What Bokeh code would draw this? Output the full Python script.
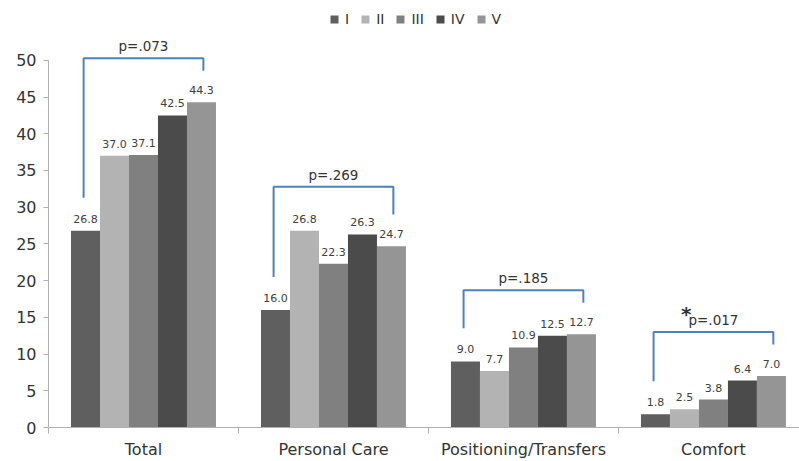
from bokeh.plotting import figure
from bokeh.models import ColumnDataSource, Range1d, FixedTicker, Legend, LegendItem
from bokeh.transform import dodge
from bokeh.core.properties import value
from bokeh.embed import file_html
from bokeh.resources import INLINE

categories = ["Total", "Personal Care", "Positioning/Transfers", "Comfort"]
series_names = ["I", "II", "III", "IV", "V"]
s_I = [26.8, 16.0, 9.0, 1.8]
s_II = [37.0, 26.8, 7.7, 2.5]
s_III = [37.1, 22.3, 10.9, 3.8]
s_IV = [42.5, 26.3, 12.5, 6.4]
s_V = [44.3, 24.7, 12.7, 7.0]
p_values = [0.073, 0.269, 0.185, 0.017]
y_ticks = [0, 5, 10, 15, 20, 25, 30, 35, 40, 45, 50]

series = [s_I, s_II, s_III, s_IV, s_V]
colors = ["#5f5f5f", "#b3b3b3", "#808080", "#4b4b4b", "#959595"]
FONT = "DejaVu Sans"
BAR_W = 0.1526

centers = [i + 0.5 for i in range(len(categories))]
data = {"x": centers}
for name, vals in zip(series_names, series):
    data[name] = vals
    data[name + "_lbl"] = [f"{v:.1f}" for v in vals]
source = ColumnDataSource(data)

p = figure(width=799, height=461, output_backend="svg", toolbar_location=None,
           x_range=Range1d(0, 3.953), y_range=Range1d(0, 58.15),
           min_border_left=48, min_border_right=0, min_border_top=0, min_border_bottom=20)
p.outline_line_color = None
p.xgrid.visible = False
p.ygrid.visible = False
p.background_fill_color = "white"
p.border_fill_color = "white"

items = []
for k, (name, col) in enumerate(zip(series_names, colors)):
    off = (k - 2) * BAR_W
    r = p.vbar(x=dodge("x", off, range=p.x_range), top=name, width=BAR_W, bottom=0,
               source=source, fill_color=col, line_color=None)
    p.text(x=dodge("x", off, range=p.x_range), y=name, text=name + "_lbl", source=source,
           text_align="center", text_baseline="bottom", y_offset=-8,
           text_font=value(FONT), text_font_size="11px", text_color="#404040")
    items.append(LegendItem(label=name, renderers=[r]))

# significance brackets
bx, by, ptx, pty, ptxt, sx, sy = [], [], [], [], [], [], []
for i, c in enumerate(centers):
    xl = c - 2 * BAR_W - 0.01
    xr = c + 2 * BAR_W + 0.01
    top = max(s[i] for s in series) + 6.0
    bx.append([xl, xl, xr, xr])
    by.append([s_I[i] + 4.5, top, top, s_V[i] + 4.3])
    ptx.append((xl + xr) / 2)
    pty.append(top)
    ptxt.append("p=" + f"{p_values[i]:.3f}"[1:])
    if p_values[i] < 0.05:
        sx.append((xl + xr) / 2)
        sy.append(top)
p.multi_line(xs=bx, ys=by, line_color="#4f81bd", line_width=2)
p.text(x=ptx, y=pty, text=ptxt, text_align="center", text_baseline="bottom", y_offset=-4,
       text_font=value(FONT), text_font_size="13.5px", text_color="#333333")
p.text(x=sx, y=sy, text=["*"] * len(sx), text_align="right", text_baseline="bottom",
       x_offset=-22, y_offset=-6, text_font=value(FONT), text_font_size="20px",
       text_font_style="bold", text_color="#333333")

legend = Legend(items=items, orientation="horizontal", location=(281, 400),
                glyph_width=10, glyph_height=10, label_standoff=6, spacing=11,
                padding=0, margin=0, border_line_color=None, background_fill_alpha=0,
                label_text_font=FONT, label_text_font_size="14px", label_text_color="#333333",
                label_height=16, label_width=2)
p.add_layout(legend, "center")

# axes
p.yaxis.ticker = FixedTicker(ticks=y_ticks)
p.yaxis.bounds = (0, 50)
p.yaxis.axis_line_color = "#b0b0b0"
p.yaxis.major_tick_line_color = "#b0b0b0"
p.yaxis.major_tick_out = 5
p.yaxis.major_tick_in = 0
p.yaxis.minor_tick_line_color = None
p.yaxis.major_label_text_font = FONT
p.yaxis.major_label_text_font_size = "16px"
p.yaxis.major_label_text_color = "#333333"
p.yaxis.major_label_standoff = 7

p.xaxis.ticker = FixedTicker(ticks=centers, minor_ticks=list(range(len(categories) + 1)))
p.xaxis.major_label_overrides = {c: lab for c, lab in zip(centers, categories)}
p.xaxis.axis_line_color = "#b0b0b0"
p.xaxis.major_tick_out = 0
p.xaxis.major_tick_in = 0
p.xaxis.minor_tick_line_color = "#b0b0b0"
p.xaxis.minor_tick_out = 6
p.xaxis.minor_tick_in = 0
p.xaxis.major_label_text_font = FONT
p.xaxis.major_label_text_font_size = "16px"
p.xaxis.major_label_text_color = "#333333"
p.xaxis.major_label_standoff = 6

open("out.html", "w").write(file_html(p, INLINE))
